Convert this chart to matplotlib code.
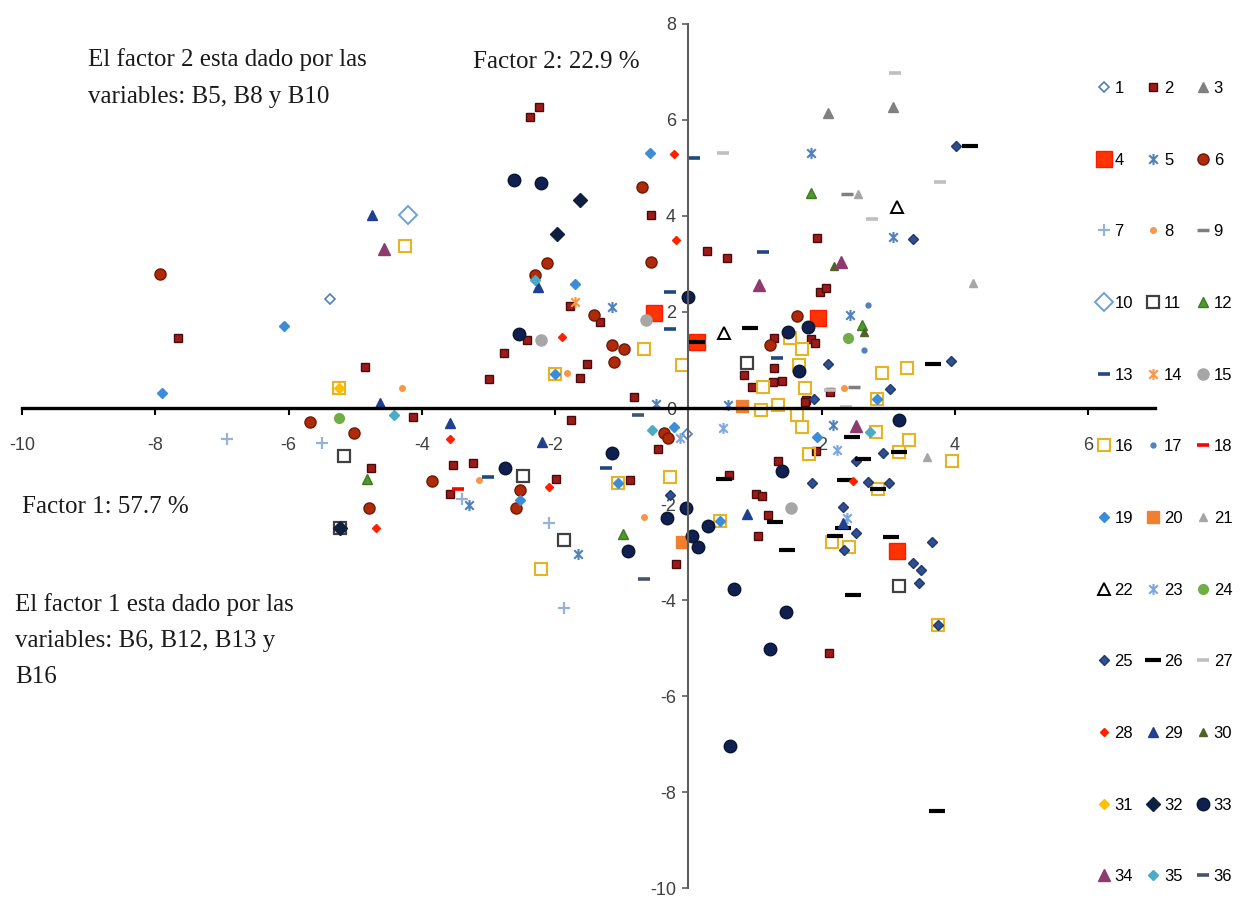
#importando bibliotecas
from matplotlib import pyplot as plt
from matplotlib.path import Path

#coordenadas de cada serie (factor 1, factor 2)
x1 = [-5.38, -0.02]
y1 = [2.27, -0.55]
x2 = [-7.66, -4.77, -4.13, -4.86, -2.77, -1.78, -1.32, -2.42, -1.53, -1.63, -3.0, -0.81,
      -1.77, -3.54, -3.24, -3.58, -1.99, -0.87, -0.18, -0.45, -2.38, -2.25, -0.56, 0.28,
      0.58, 0.84, 0.96, 1.27, 1.41, 1.29, 1.29, 1.84, 1.9, 1.98, 2.07, 1.93, 1.77, 2.13,
      1.75, 1.92, 1.35, 0.61, 1.02, 1.11, 1.2, 1.05, 2.11]
y2 = [1.46, -1.25, -0.18, 0.86, 1.15, 2.12, 1.79, 1.42, 0.92, 0.63, 0.6, 0.23,
      -0.25, -1.19, -1.15, -1.79, -1.48, -1.5, -3.25, -0.86, 6.06, 6.27, 4.02, 3.27,
      3.12, 0.69, 0.44, 0.54, 0.56, 0.83, 1.46, 1.44, 1.35, 2.42, 2.5, 3.54, 0.17, 0.33,
      0.13, -0.9, -1.1, -1.4, -1.79, -1.83, -2.23, -2.67, -5.1]
x3 = [2.1, 3.07]
y3 = [6.15, 6.27]
x4 = [-0.51, 0.13, 1.95, 3.13]
y4 = [1.98, 1.38, 1.88, -2.98]
x5 = [1.84, 3.07, 2.43, -3.3, -1.66, -1.14, 0.6, -0.48, 2.17]
y5 = [5.31, 3.56, 1.94, -2.02, -3.04, 2.1, 0.06, 0.08, -0.35]
x6 = [-7.93, -5.68, -5.02, -4.8, -2.13, -2.3, -1.42, -1.14, -0.96, -1.12, -0.7, -0.56,
      -0.37, -0.3, -3.85, -2.53, -2.59, 1.63, 1.23]
y6 = [2.79, -0.29, -0.53, -2.08, 3.02, 2.77, 1.94, 1.31, 1.23, 0.96, 4.6, 3.04,
      -0.52, -0.63, -1.52, -1.71, -2.08, 1.92, 1.31]
x7 = [-6.93, -5.5, -3.4, -2.1, -1.87]
y7 = [-0.65, -0.73, -1.9, -2.4, -4.17]
x8 = [-4.3, -1.83, -3.15, -0.66, 2.34]
y8 = [0.42, 0.73, -1.5, -2.27, 0.42]
x9 = [2.38, 2.49]
y9 = [4.46, 0.44]
x10 = [-4.21]
y10 = [4.02]
x11 = [-5.17, -5.23, -2.49, -1.87, 0.88, 3.16]
y11 = [-1.0, -2.5, -1.42, -2.75, 0.94, -3.71]
x12 = [-4.83, -0.98, 1.84, 2.61]
y12 = [-1.48, -2.63, 4.48, 1.73]
x13 = [0.08, -0.27, -0.27, 1.12, 1.33, -3.01, -1.24]
y13 = [5.21, 2.42, 1.65, 3.25, 1.04, -1.44, -1.25]
x14 = [-1.71]
y14 = [2.2]
x15 = [-0.63, -2.22, 1.54]
y15 = [1.83, 1.42, -2.08]
x16 = [-5.25, -4.26, -0.67, -0.1, -2.01, -2.22, -1.06, -0.27, 1.09, 1.35, 1.63, 1.71,
       2.82, 3.31, 3.96, 1.81, 3.16, 2.85, 0.48, 2.16, 2.41, 3.75, 1.12, 1.53, 1.71,
       1.66, 1.75, 3.28, 2.91, 2.83]
y16 = [0.42, 3.38, 1.23, 0.9, 0.71, -3.35, -1.56, -1.44, -0.04, 0.06, -0.15, -0.39,
       -0.5, -0.67, -1.1, -0.96, -0.92, -1.69, -2.35, -2.79, -2.9, -4.52, 0.44, 1.46, 1.23,
       0.9, 0.42, 0.83, 0.73, 0.19]
x17 = [2.7, 2.64]
y17 = [2.15, 1.21]
x18 = [-3.46]
y18 = [-1.69]
x19 = [-7.9, -6.07, -0.57, -1.71, -2.01, -0.21, -2.53, -1.06, 1.93, 0.48, 2.83]
y19 = [0.31, 1.71, 5.31, 2.58, 0.71, -0.4, -1.92, -1.56, -0.6, -2.35, 0.19]
x20 = [0.81, -0.09]
y20 = [0.04, -2.79]
x21 = [2.55, 4.27, 3.58]
y21 = [4.46, 2.6, -1.02]
x22 = [0.54, 3.13]
y22 = [1.56, 4.19]
x23 = [0.52, 2.23, 2.38, -0.12]
y23 = [-0.42, -0.87, -2.29, -0.63]
x24 = [-5.25, 2.4]
y24 = [-0.2, 1.46]
x25 = [1.89, 2.1, 3.03, 3.94, 3.37, 4.02, 2.52, 2.92, 1.86, 2.7, 3.01, 2.32, 2.52, 2.34,
       3.66, 3.37, 3.49, 3.46, 3.75, -0.28]
y25 = [0.19, 0.92, 0.4, 0.98, 3.52, 5.46, -1.1, -0.94, -1.56, -1.54, -1.56, -2.06, -2.6,
       -2.96, -2.79, -3.23, -3.38, -3.65, -4.52, -1.81]
x26 = [0.13, 0.93, 4.23, 3.67, 2.46, 2.62, 3.16, 0.53, 2.35, 2.85, 1.3, 1.48, 2.32, 2.2,
       3.04, 2.47, 3.73]
y26 = [1.38, 1.67, 5.46, 0.92, -0.6, -1.06, -0.92, -1.48, -1.5, -1.69, -2.37, -2.96, -2.5,
       -2.67, -2.69, -3.9, -8.4]
x27 = [0.52, 2.76, 3.1, 3.78, 2.36, 2.13]
y27 = [5.31, 3.94, 6.98, 4.71, 0.02, 0.38]
x28 = [-4.69, -1.9, -0.21, -0.18, -3.58, -2.1, 2.47]
y28 = [-2.5, 1.48, 5.29, 3.5, -0.65, -1.64, -1.52]
x29 = [-4.75, -2.26, -4.63, -3.58, -2.2, 0.88, 2.32]
y29 = [4.02, 2.52, 0.1, -0.31, -0.7, -2.21, -2.4]
x30 = [2.19, 2.63]
y30 = [2.96, 1.58]
x31 = [-5.25]
y31 = [0.42]
x32 = [-1.63, -1.98, -5.23]
y32 = [4.33, 3.62, -2.5]
x33 = [-2.62, -2.22, 0.0, -2.55, -2.76, -1.14, -0.9, -0.32, -0.04, 0.06, 0.15, 0.3, 3.16,
       1.41, 0.69, 1.47, 1.23, 0.63, 1.5, 1.8, 1.66]
y33 = [4.75, 4.69, 2.31, 1.54, -1.25, -0.94, -2.98, -2.29, -2.08, -2.67, -2.9, -2.46, -0.25,
       -1.31, -3.77, -4.25, -5.02, -7.04, 1.58, 1.69, 0.77]
x34 = [-4.57, 1.06, 2.29, 2.52]
y34 = [3.31, 2.56, 3.04, -0.38]
x35 = [-4.42, -2.3, -0.55, 2.73]
y35 = [-0.15, 2.67, -0.46, -0.5]
x36 = [-0.75, -0.67]
y36 = [-0.15, -3.56]

series = [(x1, y1), (x2, y2), (x3, y3), (x4, y4), (x5, y5), (x6, y6), (x7, y7), (x8, y8),
          (x9, y9), (x10, y10), (x11, y11), (x12, y12), (x13, y13), (x14, y14), (x15, y15),
          (x16, y16), (x17, y17), (x18, y18), (x19, y19), (x20, y20), (x21, y21), (x22, y22),
          (x23, y23), (x24, y24), (x25, y25), (x26, y26), (x27, y27), (x28, y28), (x29, y29),
          (x30, y30), (x31, y31), (x32, y32), (x33, y33), (x34, y34), (x35, y35), (x36, y36)]
etiquetas = [str(i) for i in range(1, 37)]

#marcador tipo asterisco de excel (X con barra vertical)
asterisco = Path([(-1, -1), (1, 1), (-1, 1), (1, -1), (0, -1.3), (0, 1.3)],
                 [Path.MOVETO, Path.LINETO, Path.MOVETO, Path.LINETO, Path.MOVETO, Path.LINETO])

#estilo de cada serie: marcador, tamaño, relleno, borde, grosor
estilos = [
    ("D", 5, "none", "#4F81BD", 1.2),
    ("s", 6, "#9B1B1B", "#4A0A0A", 1.0),
    ("^", 7, "#808080", "#808080", 1.0),
    ("s", 11, "#FF3300", "#FF1A00", 1.0),
    (asterisco, 8, "none", "#4F81BD", 1.5),
    ("o", 8, "#B02A0A", "#6E1A05", 1.0),
    ("+", 9, "none", "#95B3D7", 1.6),
    ("o", 4, "#F79646", "#F79646", 1.0),
    ("_", 8, "none", "#7F7F7F", 2.5),
    ("D", 9, "none", "#6F9FD8", 1.4),
    ("s", 8, "none", "#404040", 1.6),
    ("^", 7, "#4E9A2E", "#3C7A22", 1.0),
    ("_", 9, "none", "#1F497D", 2.6),
    (asterisco, 8, "none", "#F79646", 1.5),
    ("o", 8, "#A6A6A6", "#A6A6A6", 1.0),
    ("s", 9, "none", "#E6B422", 1.5),
    ("o", 3.5, "#4F81BD", "#4F81BD", 1.0),
    ("_", 9, "none", "#FF0000", 2.6),
    ("D", 5, "#3C8DD6", "#3C8DD6", 1.0),
    ("s", 8, "#F07F30", "#F07F30", 1.0),
    ("^", 6, "#A6A6A6", "#A6A6A6", 1.0),
    ("^", 8, "none", "#000000", 1.4),
    (asterisco, 8, "none", "#7EA6E0", 1.5),
    ("o", 7, "#70AD47", "#70AD47", 1.0),
    ("D", 5, "#2F4F8F", "#1F3A70", 1.0),
    ("_", 11, "none", "#000000", 3.0),
    ("_", 9, "none", "#BFBFBF", 2.6),
    ("D", 4.5, "#FF2000", "#FF2000", 1.0),
    ("^", 7, "#1F3F8F", "#1F3F8F", 1.0),
    ("^", 6, "#4F6228", "#4F6228", 1.0),
    ("D", 5, "#FFC000", "#FFC000", 1.0),
    ("D", 7, "#0F1F3F", "#0F1F3F", 1.0),
    ("o", 9, "#0F1F4F", "#0A1530", 1.0),
    ("^", 8, "#8E3A6E", "#8E3A6E", 1.0),
    ("D", 5, "#4BACC6", "#4BACC6", 1.0),
    ("_", 9, "none", "#44546A", 2.6),
]

plt.rcParams['font.family'] = ['Liberation Sans', 'DejaVu Sans']
plt.rcParams['axes.unicode_minus'] = False

fig = plt.figure(figsize=(12.5, 9.05), dpi=100)
ax = fig.add_axes([22 / 1250, 17 / 905, 1133 / 1250, 864 / 905])

#dibujando las series
lineas = []
for (xs, ys), (mk, ms, fc, ec, mew), etiqueta in zip(series, estilos, etiquetas):
    linea, = ax.plot(xs, ys, linestyle="none", marker=mk, markersize=ms,
                     markerfacecolor=fc, markeredgecolor=ec, markeredgewidth=mew,
                     label=etiqueta)
    lineas.append(linea)

#ejes cruzados en el origen
ax.set_xlim(-10, 7)
ax.set_ylim(-10, 8)
ax.spines['left'].set_position(('data', 0))
ax.spines['bottom'].set_position(('data', 0))
ax.spines['right'].set_visible(False)
ax.spines['top'].set_visible(False)
ax.spines['bottom'].set_linewidth(2.4)
ax.spines['bottom'].set_color("#000000")
ax.spines['left'].set_linewidth(1.5)
ax.spines['left'].set_color("#5E5E5E")
ax.set_xticks([-10, -8, -6, -4, -2, 2, 4, 6])
ax.set_yticks(range(-10, 9, 2))
ax.tick_params(axis='x', direction='out', length=5, width=1.5, color="#000000",
               labelsize=13, labelcolor="#404040", pad=16)
ax.tick_params(axis='y', direction='out', length=4, width=1.2, color="#5E5E5E",
               labelsize=13, labelcolor="#404040", pad=5)

#leyenda por filas (1 2 3 / 4 5 6 ...)
orden = list(range(0, 36, 3)) + list(range(1, 36, 3)) + list(range(2, 36, 3))
fig.legend([lineas[i] for i in orden], [etiquetas[i] for i in orden],
           loc='upper left', bbox_to_anchor=(1082 / 1250, 1 - 66 / 905), ncol=3,
           frameon=False, fontsize=12, handlelength=0.8, handletextpad=0.25,
           labelspacing=3.4, columnspacing=0.8, numpoints=1)

#textos explicativos
serif = ['Liberation Serif', 'DejaVu Serif']
textos = [("El factor 2 esta dado por las", 88, 60),
          ("variables: B5, B8 y B10", 88, 97),
          ("Factor 2: 22.9 %", 473, 62),
          ("Factor 1: 57.7 %", 22, 507),
          ("El factor 1 esta dado por las", 15, 605),
          ("variables: B6, B12, B13 y", 15, 641),
          ("B16", 15, 677)]
for texto, px, py in textos:
    fig.text(px / 1250, 1 - py / 905, texto, family=serif, fontsize=18,
             ha='left', va='center', color="#1A1A1A")

plt.savefig("out.png", dpi=100)
